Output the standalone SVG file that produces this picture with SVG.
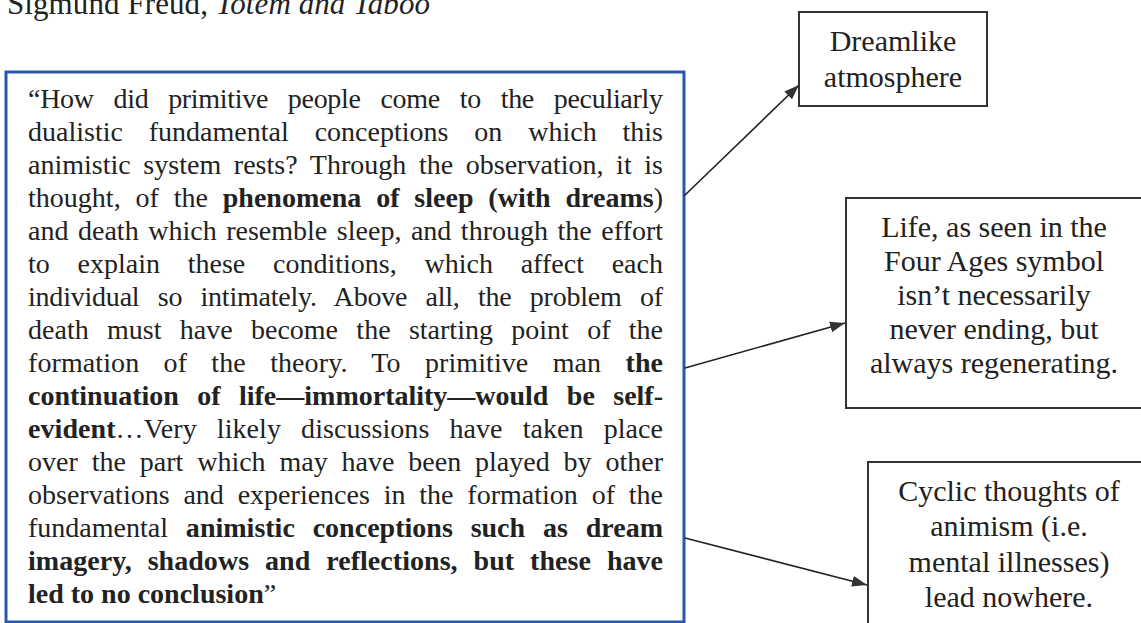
<svg xmlns="http://www.w3.org/2000/svg" width="1141" height="623" viewBox="0 0 1141 623">
<style>
text{font-family:"Liberation Serif","Times New Roman",serif;fill:#222;}
.body{font-size:28px;}
.b{font-weight:bold;}
.lbl{font-size:30px;text-anchor:middle;}
.box{fill:#fff;stroke:#333;stroke-width:2;}
.conn{stroke:#222;stroke-width:1.6;fill:none;marker-end:url(#arr);}
</style>
<defs>
<marker id="arr" markerUnits="userSpaceOnUse" markerWidth="16" markerHeight="12" refX="15" refY="6" orient="auto">
<path d="M0,0.5 L15,6 L0,11.5 Z" fill="#333"/>
</marker>
</defs>
<rect width="1141" height="623" fill="#fff"/>
<g id="title">
<text x="7" y="14" textLength="423" style="font-size:31px">Sigmund Freud, <tspan font-style="italic">Totem and Taboo</tspan></text>
</g>
<g id="quote-box">
<rect x="6" y="72" width="678" height="550" fill="#fff" stroke="#2858ab" stroke-width="3"/>
<text class="body" x="28" y="108" textLength="635" lengthAdjust="spacing" word-spacing="13.1">“How did primitive people come to the peculiarly</text>
<text class="body" x="28" y="141" textLength="635" lengthAdjust="spacing" word-spacing="18.9">dualistic fundamental conceptions on which this</text>
<text class="body" x="28" y="174" textLength="635" lengthAdjust="spacing" word-spacing="5.6">animistic system rests? Through the observation, it is</text>
<text class="body" x="28" y="207" textLength="635" lengthAdjust="spacing" word-spacing="7.8">thought, of the <tspan class="b">phenomena of sleep (with dreams</tspan>)</text>
<text class="body" x="28" y="240" textLength="635" lengthAdjust="spacing" word-spacing="2.5">and death which resemble sleep, and through the effort</text>
<text class="body" x="28" y="273" textLength="635" lengthAdjust="spacing" word-spacing="20.7">to explain these conditions, which affect each</text>
<text class="body" x="28" y="306" textLength="635" lengthAdjust="spacing" word-spacing="11.5">individual so intimately. Above all, the problem of</text>
<text class="body" x="28" y="339" textLength="635" lengthAdjust="spacing" word-spacing="11.3">death must have become the starting point of the</text>
<text class="body" x="28" y="372" textLength="635" lengthAdjust="spacing" word-spacing="17.2">formation of the theory. To primitive man <tspan class="b">the</tspan></text>
<text class="body b" x="28" y="405" textLength="635" lengthAdjust="spacing" word-spacing="11.4">continuation of life—immortality—would be self-</text>
<text class="body" x="28" y="438" textLength="635" lengthAdjust="spacing" word-spacing="13"><tspan class="b">evident</tspan>…Very likely discussions have taken place</text>
<text class="body" x="28" y="471" textLength="635" lengthAdjust="spacing" word-spacing="6.9">over the part which may have been played by other</text>
<text class="body" x="28" y="504" textLength="635" lengthAdjust="spacing" word-spacing="6.8">observations and experiences in the formation of the</text>
<text class="body" x="28" y="537" textLength="635" lengthAdjust="spacing" word-spacing="10.8">fundamental <tspan class="b">animistic conceptions such as dream</tspan></text>
<text class="body b" x="28" y="570" textLength="635" lengthAdjust="spacing" word-spacing="8.9">imagery, shadows and reflections, but these have</text>
<text class="body" x="28" y="603"><tspan class="b">led to no conclusion</tspan>”</text>
</g>
<g id="node-dreamlike">
<rect class="box" x="799" y="12" width="188" height="94"/>
<text class="lbl" x="893" y="51">Dreamlike</text>
<text class="lbl" x="893" y="87">atmosphere</text>
</g>
<g id="node-life">
<rect class="box" x="846" y="198" width="297" height="210"/>
<text class="lbl" x="994" y="237">Life, as seen in the</text>
<text class="lbl" x="994" y="271">Four Ages symbol</text>
<text class="lbl" x="994" y="305">isn’t necessarily</text>
<text class="lbl" x="994" y="339">never ending, but</text>
<text class="lbl" x="994" y="373">always regenerating.</text>
</g>
<g id="node-cyclic">
<rect class="box" x="868" y="462" width="284" height="180"/>
<text class="lbl" x="1009" y="501">Cyclic thoughts of</text>
<text class="lbl" x="1009" y="536">animism (i.e.</text>
<text class="lbl" x="1009" y="572">mental illnesses)</text>
<text class="lbl" x="1009" y="607">lead nowhere.</text>
</g>
<g id="connectors">
<line class="conn" x1="684" y1="196" x2="799" y2="85"/>
<line class="conn" x1="685" y1="368" x2="845" y2="323"/>
<line class="conn" x1="685" y1="538" x2="867" y2="585"/>
</g>
</svg>
